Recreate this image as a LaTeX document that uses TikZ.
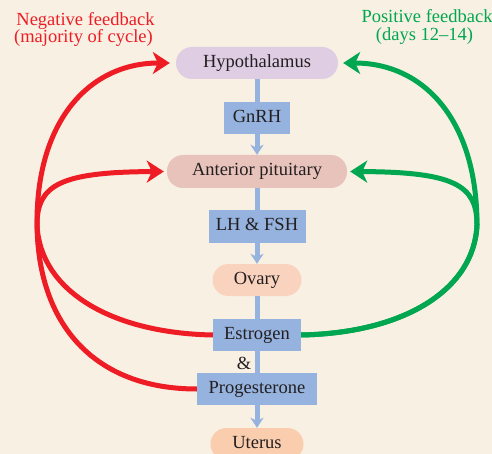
\documentclass[tikz,border=0pt]{standalone}
\usepackage{fontspec}
\setmainfont{Liberation Serif}
\usetikzlibrary{arrows.meta}
\definecolor{bg}{HTML}{F8F0E2}
\definecolor{hypo}{HTML}{DFCDE4}
\definecolor{pitc}{HTML}{E8C3BB}
\definecolor{ovac}{HTML}{FAD3BE}
\definecolor{utec}{HTML}{F9CDAE}
\definecolor{bluec}{HTML}{95B3DE}
\definecolor{redc}{HTML}{EE1C25}
\definecolor{greenc}{HTML}{00A650}
\definecolor{txt}{HTML}{231F20}
\begin{document}
\begin{tikzpicture}[x=1pt,y=-1pt,
  font=\fontsize{18.5}{22}\selectfont,
  pill/.style={rectangle,rounded corners=16pt,minimum height=32pt,inner sep=0pt,
    text=txt,text height=12.5pt,text depth=4pt},
  hbox/.style={rectangle,fill=bluec,minimum height=32pt,inner sep=0pt,
    text=txt,text height=12.5pt,text depth=4pt},
  bluearrow/.style={draw=bluec,line width=5pt,-{Stealth[length=10pt,width=13pt,inset=3pt]}},
  blueline/.style={draw=bluec,line width=5pt},
  redarrow/.style={draw=redc,line width=5pt,-{Stealth[length=17pt,width=22pt,inset=5pt]}},
  greenarrow/.style={draw=greenc,line width=5pt,-{Stealth[length=17pt,width=22pt,inset=5pt]}},
  lbl/.style={anchor=base,inner sep=0pt}]
\clip (0,0) rectangle (492,454);
\fill[bg] (0,0) rectangle (492,454);

\node[pill,fill=hypo,minimum width=162pt] (hyp) at (257,63) {Hypothalamus};
\node[hbox,minimum width=66pt] (gnrh) at (257,118) {GnRH};
\node[pill,fill=pitc,minimum width=180pt,minimum height=33pt] (pit) at (257,171.5) {Anterior pituitary};
\node[hbox,minimum width=97pt,minimum height=33pt] (lh) at (257,226.5) {LH \& FSH};
\node[pill,fill=ovac,minimum width=89pt] (ova) at (257,280) {Ovary};
\node[hbox,minimum width=88pt] (est) at (257,335) {Estrogen};
\node[text=txt,inner sep=0pt] (amp) at (244,363) {\&};
\node[hbox,minimum width=120pt] (prog) at (257,389) {Progesterone};
\node[pill,fill=utec,minimum width=93pt] (ute) at (257,444) {Uterus};

\node[lbl,text=redc] (neg1) at (85.5,26) {Negative feedback};
\node[lbl,text=redc] (neg2) at (83.5,43) {(majority of cycle)};
\node[lbl,text=greenc] (pos1) at (427,23) {Positive feedback};
\node[lbl,text=greenc] (pos2) at (424.5,41) {(days 12--14)};

\draw[blueline] (hyp.south) -- (gnrh.north);
\draw[bluearrow] (gnrh.south) -- (pit.north);
\draw[blueline] (pit.south) -- (lh.north);
\draw[bluearrow] (lh.south) -- (ova.north);
\draw[blueline] (ova.south) -- (est.north);
\draw[blueline] (est.south) -- (prog.north);
\draw[bluearrow] (prog.south) -- (ute.north);

\draw[redarrow,shorten >=6pt] (prog.west) .. controls (95,389) and (37,325) .. (37,222)
  .. controls (37,120) and (90,63) .. (hyp.west);
\draw[redarrow,shorten >=3pt] (est.west) .. controls (110,333) and (40,290) .. (37,225)
  .. controls (37,185) and (60,172) .. (pit.west);
\draw[greenarrow,shorten >=5pt] (est.east) .. controls (404,333) and (474,290) .. (477,225)
  .. controls (477,120) and (424,63) .. (hyp.east);
\draw[greenarrow,shorten >=3pt] (est.east) .. controls (404,333) and (474,290) .. (477,225)
  .. controls (477,185) and (454,172) .. (pit.east);
\end{tikzpicture}
\end{document}
